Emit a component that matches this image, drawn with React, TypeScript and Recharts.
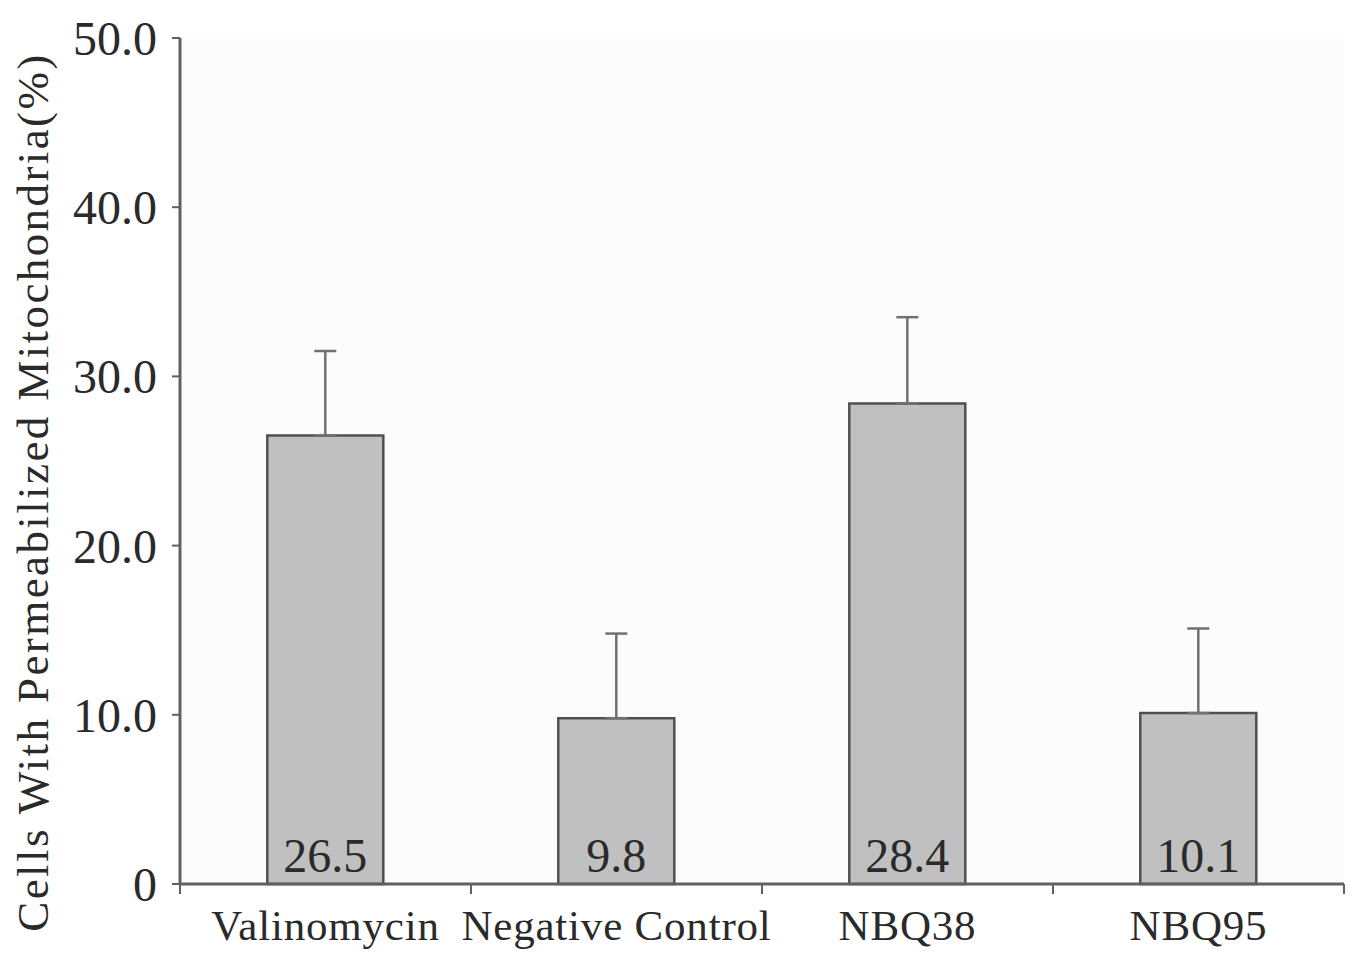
import React from "react";
import {
  BarChart,
  Bar,
  XAxis,
  YAxis,
  ErrorBar,
  LabelList,
  CartesianGrid,
} from "recharts";

const categories = ["Valinomycin", "Negative Control", "NBQ38", "NBQ95"];
const values = [26.5, 9.8, 28.4, 10.1];
const upperErrors = [5.0, 5.0, 5.1, 5.0];
const yTicks = [0, 10, 20, 30, 40, 50];

const FONT = '"Liberation Serif", "Times New Roman", serif';
const AXIS = "#606060";
const INK = "#2a2a2a";

const data = categories.map((name, i) => ({
  name,
  value: values[i],
  err: [0, upperErrors[i]],
}));

// category label + tick marks on the band edges (not the centres)
function XTick(props: any) {
  const { x, y, payload, index } = props;
  const half = payload.offset || 0;
  const last = index === categories.length - 1;
  return (
    <g>
      <line x1={x - half} x2={x - half} y1={y} y2={y + 10} stroke={AXIS} strokeWidth={2} />
      {last && (
        <line x1={x + half} x2={x + half} y1={y} y2={y + 10} stroke={AXIS} strokeWidth={2} />
      )}
      <text
        x={x}
        y={y + 56}
        textAnchor="middle"
        fontFamily={FONT}
        fontSize={43}
        letterSpacing={0.8}
        fill={INK}
      >
        {payload.value}
      </text>
    </g>
  );
}

function BarValue(props: any) {
  const { x, y, width, height, value } = props;
  return (
    <text
      x={x + width / 2}
      y={y + height - 12}
      textAnchor="middle"
      fontFamily={FONT}
      fontSize={48}
      fill={INK}
    >
      {Number(value).toFixed(1)}
    </text>
  );
}

function YTitle(props: any) {
  const vb = props.viewBox;
  const cx = 33;
  const cy = vb.y + vb.height / 2 + 31;
  return (
    <text
      x={cx}
      y={cy}
      transform={`rotate(-90 ${cx} ${cy})`}
      textAnchor="middle"
      dominantBaseline="central"
      fontFamily={FONT}
      fontSize={45}
      letterSpacing={2.4}
      fill={INK}
    >
      Cells With Permeabilized Mitochondria(%)
    </text>
  );
}

export default function App() {
  return (
    <div style={{ position: "fixed", left: 0, top: 0, background: "#fff" }}>
      <BarChart
        width={1355}
        height={954}
        data={data}
        margin={{ top: 38, right: 11, bottom: 0, left: 0 }}
        barCategoryGap="30%"
      >
        <CartesianGrid horizontal={false} vertical={false} fill="#fcfcfc" />
        <XAxis
          dataKey="name"
          height={70}
          tickSize={0}
          tickMargin={0}
          axisLine={{ stroke: AXIS, strokeWidth: 3 }}
          tickLine={false}
          tick={<XTick />}
          interval={0}
        />
        <YAxis
          domain={[0, 50]}
          ticks={yTicks}
          width={180}
          tickSize={8}
          tickMargin={15}
          axisLine={{ stroke: AXIS, strokeWidth: 3 }}
          tickLine={{ stroke: AXIS, strokeWidth: 2 }}
          tick={{ fontFamily: FONT, fontSize: 48, fill: INK }}
          tickFormatter={(v: number) => (v === 0 ? "0" : v.toFixed(1))}
          label={<YTitle />}
        />
        <Bar
          dataKey="value"
          fill="#c0c0c0"
          stroke="#505050"
          strokeWidth={2.5}
          isAnimationActive={false}
        >
          <ErrorBar
            dataKey="err"
            width={11}
            stroke="#707070"
            strokeWidth={2.5}
            direction="y"
          />
          <LabelList dataKey="value" content={<BarValue />} />
        </Bar>
      </BarChart>
    </div>
  );
}
